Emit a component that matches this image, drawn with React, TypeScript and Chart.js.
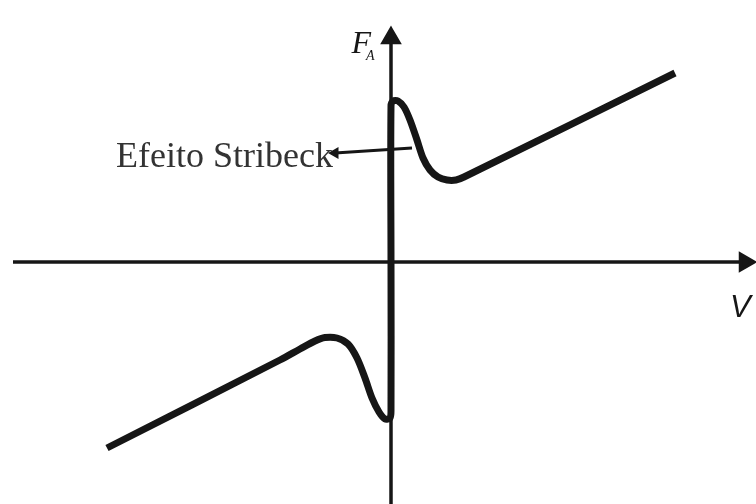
import React, { useEffect, useRef } from "react";
import { Chart, registerables } from "chart.js";

Chart.register(...registerables);

// Friction curve F_A(V) with Stribeck effect (arbitrary units)
const curveV = [-28.4, -11.1, -9.1, -7.6, -6.6, -5.4, -4.3, -3.4, -2.6, -1.9, -1.2, -0.6, -0.1, 0, 0, 0, 0.2, 0.7, 1.3, 1.9, 2.6, 3.2, 3.9, 4.7, 5.6, 6.5, 7.3, 28.4];
const curveF = [-18.6, -9.8, -8.7, -7.9, -7.55, -7.6, -8.2, -9.6, -11.6, -13.6, -15.0, -15.7, -15.6, -14.8, 0, 15.6, 16.1, 16.1, 15.5, 14.2, 12.2, 10.4, 9.2, 8.5, 8.2, 8.2, 8.5, 18.9];

// Axes extents
const axisV = [-37.8, 35.4];
const axisF = [-24.2, 22.4];

// Annotation pointer "Efeito Stribeck"
const pointerV = [-5.6, 2.1];
const pointerF = [10.9, 11.4];

const annotationText = "Efeito Stribeck";
const yAxisLabel = "F";
const yAxisSub = "A";
const xAxisLabel = "V";

const INK = "#161616";

export default function App() {
  const ref = useRef<HTMLCanvasElement | null>(null);

  useEffect(() => {
    const canvas = ref.current;
    if (!canvas) return;

    const textPlugin = {
      id: "labels",
      afterDatasetsDraw(chart: any) {
        const { ctx, scales } = chart;
        const x = scales.x, y = scales.y;
        ctx.save();
        // annotation text
        ctx.fillStyle = "#333333";
        ctx.font = '36px "Liberation Serif", "Times New Roman", serif';
        ctx.textAlign = "right";
        ctx.textBaseline = "alphabetic";
        ctx.fillText(annotationText, x.getPixelForValue(-5.8), y.getPixelForValue(9.5));
        // F_A
        ctx.fillStyle = INK;
        ctx.textAlign = "left";
        ctx.font = 'italic 32px "Liberation Serif", "Times New Roman", serif';
        ctx.fillText(yAxisLabel, x.getPixelForValue(-3.95), y.getPixelForValue(20.9));
        ctx.font = 'italic 14px "Liberation Serif", "Times New Roman", serif';
        ctx.fillText(yAxisSub, x.getPixelForValue(-2.5), y.getPixelForValue(20.2));
        // V
        ctx.font = 'italic 31px "Liberation Sans", Arial, sans-serif';
        ctx.fillText(xAxisLabel, x.getPixelForValue(33.9), y.getPixelForValue(-5.5));
        ctx.restore();
      },
    };

    const chart = new Chart(canvas, {
      type: "scatter",
      data: {
        datasets: [
          {
            label: "curve",
            data: curveV.map((v, i) => ({ x: v, y: curveF[i] })),
            showLine: true,
            borderColor: INK,
            borderWidth: 7,
            tension: 0.3,
            pointRadius: 0,
            borderJoinStyle: "round",
            borderCapStyle: "butt",
            order: 0,
          } as any,
          {
            label: "pointer",
            data: pointerV.map((v, i) => ({ x: v, y: pointerF[i] })),
            showLine: true,
            borderColor: INK,
            borderWidth: 3,
            pointRadius: [4, 0],
            pointStyle: "triangle",
            rotation: -90,
            pointBackgroundColor: INK,
            pointBorderColor: INK,
            order: 1,
          } as any,
          {
            label: "vaxis",
            data: axisV.map((v) => ({ x: v, y: 0 })),
            showLine: true,
            borderColor: INK,
            borderWidth: 3.5,
            pointRadius: [0, 9],
            pointStyle: "triangle",
            rotation: 90,
            pointBackgroundColor: INK,
            pointBorderColor: INK,
            order: 2,
          } as any,
          {
            label: "faxis",
            data: axisF.map((f) => ({ x: 0, y: f })),
            showLine: true,
            borderColor: INK,
            borderWidth: 3.5,
            pointRadius: [0, 9],
            pointStyle: "triangle",
            rotation: 0,
            pointBackgroundColor: INK,
            pointBorderColor: INK,
            order: 2,
          } as any,
        ],
      },
      options: {
        animation: false,
        responsive: false,
        maintainAspectRatio: false,
        layout: { padding: 0, autoPadding: false },
        plugins: { legend: { display: false }, tooltip: { enabled: false } },
        scales: {
          x: { type: "linear", min: -39.1, max: 36.5, display: false },
          y: { type: "linear", min: -24.2, max: 26.2, display: false },
        },
      },
      plugins: [textPlugin],
    });

    return () => chart.destroy();
  }, []);

  return (
    <div style={{ position: "absolute", left: 0, top: 0, width: 756, height: 504, background: "#ffffff" }}>
      <canvas ref={ref} width={756} height={504} style={{ width: 756, height: 504, display: "block" }} />
    </div>
  );
}
